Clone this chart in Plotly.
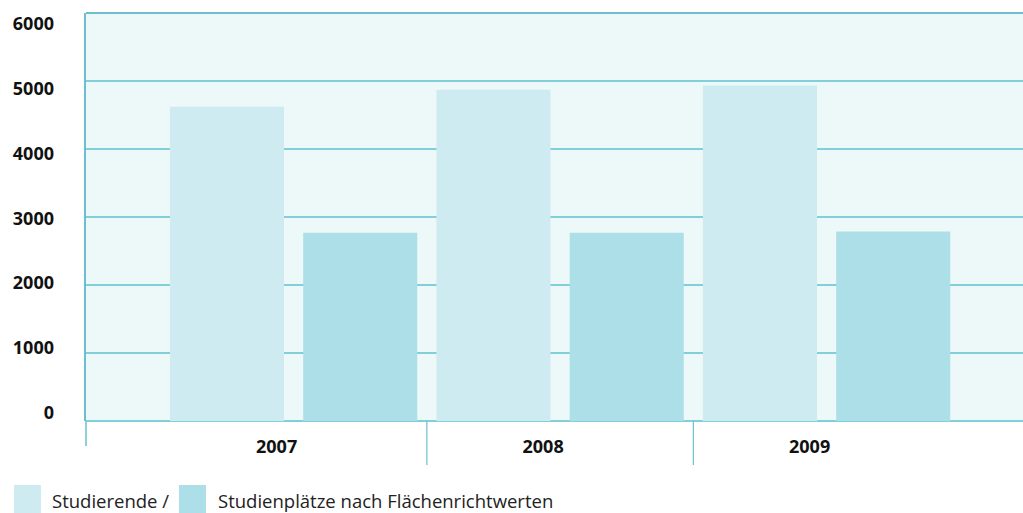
import plotly.graph_objects as go

# Data
years = ["2007", "2008", "2009"]
studierende = [4620, 4870, 4935]
studienplaetze = [2770, 2770, 2785]
y_ticks = [0, 1000, 2000, 3000, 4000, 5000, 6000]
series_names = ["Studierende /", "Studienplätze nach Flächenrichtwerten"]

# Styling
W, H = 1023, 513
M_L, M_R, M_T, M_B = 86, 0, 13, 92
PLOT_W = W - M_L - M_R
PLOT_H = H - M_T - M_B
C_BAR1 = "#cdebf0"
C_BAR2 = "#addfe8"
C_BG = "#edf8f8"
C_GRID = "#80cfdb"
C_AXIS = "#6cbfcd"
FONT = "Open Sans"


def px_x(px):
    return (px - M_L) / PLOT_W


def px_y(py):
    return (H - M_B - py) / PLOT_H


fig = go.Figure()
fig.add_trace(go.Bar(x=years, y=studierende, name=series_names[0],
                     marker=dict(color=C_BAR1, line=dict(width=0)),
                     hoverinfo="x+y"))
fig.add_trace(go.Bar(x=years, y=studienplaetze, name=series_names[1],
                     marker=dict(color=C_BAR2, line=dict(width=0)),
                     hoverinfo="x+y"))
# carrier trace for the labelled value axis
fig.add_trace(go.Scatter(x=years, y=[0, 0, 0], mode="none", yaxis="y2",
                         hoverinfo="skip", showlegend=False))

shapes = []
# top border of the plot area
shapes.append(dict(type="line", xref="paper", yref="paper", x0=0, x1=1,
                   y0=1, y1=1, layer="below",
                   line=dict(color=C_AXIS, width=2)))
# extension of the value axis below the plot
shapes.append(dict(type="line", xref="paper", yref="paper", x0=0, x1=0,
                   y0=0, y1=px_y(446), line=dict(color=C_AXIS, width=1.5)))
# separators between the year groups
for sep in [0.5, 1.5]:
    shapes.append(dict(type="line", xref="x", yref="paper", x0=sep, x1=sep,
                       y0=0, y1=px_y(465), line=dict(color=C_AXIS, width=1.2)))

# legend swatches and labels
legend_items = [(14, 50, C_BAR1, series_names[0]),
                (179, 216, C_BAR2, series_names[1])]
annotations = []
for sx, tx, col, label in legend_items:
    shapes.append(dict(type="rect", xref="paper", yref="paper",
                       x0=px_x(sx), x1=px_x(sx + 27),
                       y0=px_y(513), y1=px_y(485),
                       fillcolor=col, line=dict(width=0)))
    annotations.append(dict(xref="paper", yref="paper", x=px_x(tx), y=px_y(500),
                            xanchor="left", yanchor="middle", showarrow=False,
                            text=label,
                            font=dict(family=FONT, size=18.5, color="#222222")))

fig.update_layout(
    width=W, height=H,
    margin=dict(l=M_L, r=M_R, t=M_T, b=M_B, pad=0),
    paper_bgcolor="white",
    plot_bgcolor=C_BG,
    barmode="group",
    bargap=0,
    bargroupgap=0.144,
    showlegend=False,
    shapes=shapes,
    annotations=annotations,
    xaxis=dict(
        type="category",
        range=[-0.779, 2.737],
        showgrid=False, zeroline=False, showline=False,
        ticks="", ticklabelshift=-17, ticklabelstandoff=13,
        tickfont=dict(family=FONT, size=18, color="#111111", weight="bold"),
    ),
    yaxis=dict(
        range=[0, 6000],
        tickvals=y_ticks,
        showticklabels=False,
        showgrid=True, gridcolor=C_GRID, gridwidth=1.5,
        zeroline=True, zerolinecolor=C_GRID, zerolinewidth=1.5,
        showline=True, linecolor=C_AXIS, linewidth=1.5,
        ticks="",
    ),
    yaxis2=dict(
        overlaying="y", side="left",
        range=[-128, 6165],
        tickvals=y_ticks,
        ticktext=[str(v) for v in y_ticks],
        showgrid=False, zeroline=False, showline=False,
        ticks="", ticklabelstandoff=31,
        tickfont=dict(family=FONT, size=18, color="#111111", weight="bold"),
    ),
)

fig.write_html("out.html")
